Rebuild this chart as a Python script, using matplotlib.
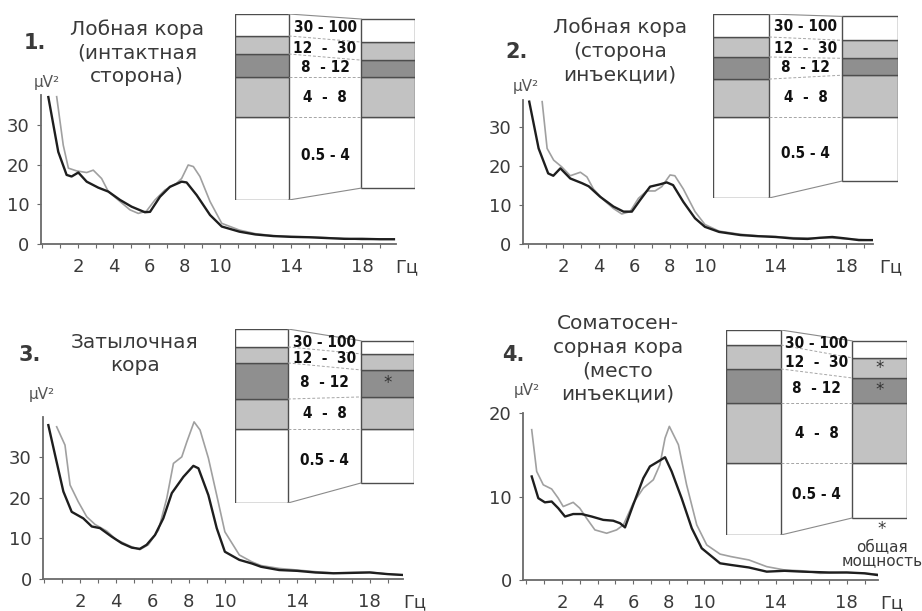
import numpy as np
import matplotlib.pyplot as plt

W, H = 922, 611

# ---- spectra (frequency in Hz, power in uV^2) ----
p1_f_black = [0.33, 0.89, 1.36, 1.64, 2.02, 2.49, 3.14, 3.71, 4.37, 5.02, 5.77, 6.06, 6.62, 7.18, 7.84, 8.12, 8.69, 9.44, 10.1, 11.1, 12, 13, 14, 15, 16, 17, 18, 19, 19.8]
p1_v_black = [37.0, 23.2, 17.4, 17.0, 18.0, 15.7, 14.2, 13.2, 11.1, 9.4, 8.0, 8.1, 11.9, 14.4, 15.7, 15.5, 12.3, 7.3, 4.4, 3.1, 2.4, 2.0, 1.8, 1.7, 1.5, 1.3, 1.3, 1.2, 1.2]
p1_f_gray = [0.8, 1.17, 1.46, 1.93, 2.49, 2.86, 3.33, 3.71, 4.37, 4.93, 5.4, 5.86, 6.34, 6.9, 7.56, 7.84, 8.21, 8.5, 8.87, 9.44, 10.1, 11.1, 12, 13, 14, 15, 16, 17, 18, 19, 19.8]
p1_v_gray = [37.1, 24.9, 19.1, 18.4, 18.0, 18.6, 16.5, 13.2, 10.7, 8.6, 7.7, 8.3, 11.1, 13.6, 15.3, 16.5, 19.9, 19.5, 17.0, 10.7, 5.2, 3.5, 2.6, 2.1, 1.9, 1.8, 1.6, 1.4, 1.1, 1.3, 1.2]

p2_f_black = [0.07, 0.6, 1.14, 1.43, 1.83, 2.39, 3.05, 3.43, 4.08, 4.83, 5.4, 5.87, 6.34, 6.9, 7.46, 7.84, 8.2, 8.78, 9.44, 10.0, 10.8, 12, 13, 14, 15, 15.8, 16.5, 17.2, 18, 18.7, 19.5]
p2_v_black = [36.5, 24.5, 18.1, 17.5, 19.4, 16.8, 15.6, 14.8, 12.1, 9.6, 8.3, 8.3, 11.3, 14.7, 15.3, 15.8, 15.1, 10.8, 6.6, 4.4, 3.1, 2.3, 2.0, 1.8, 1.4, 1.3, 1.6, 1.8, 1.4, 1.0, 1.0]
p2_f_gray = [0.8, 1.08, 1.45, 1.9, 2.39, 2.96, 3.33, 3.7, 4.27, 4.83, 5.3, 5.77, 6.24, 6.71, 7.18, 7.56, 8.03, 8.3, 8.78, 9.44, 10.0, 10.8, 12, 13, 14, 15, 16, 17, 18, 19, 19.5]
p2_v_gray = [36.5, 24.5, 21.5, 19.8, 17.5, 18.4, 17.2, 14.1, 11.3, 9.1, 7.7, 8.3, 11.7, 13.6, 13.6, 14.7, 17.7, 17.5, 14.1, 8.3, 5.0, 3.3, 2.5, 2.1, 1.9, 1.6, 1.5, 1.6, 1.3, 1.1, 1.0]

p3_f_black = [0.25, 0.62, 1.08, 1.54, 2.18, 2.65, 3.1, 3.75, 4.3, 4.86, 5.3, 5.68, 6.14, 6.6, 7.07, 7.71, 8.26, 8.54, 9.09, 9.55, 10.0, 10.8, 11.5, 12, 13, 14, 15, 16, 17, 18, 19, 19.8]
p3_v_black = [37.8, 30.5, 21.5, 16.5, 14.9, 12.9, 12.5, 10.4, 8.8, 7.7, 7.4, 8.4, 10.8, 14.9, 21.1, 25.1, 27.8, 27.2, 20.6, 12.5, 6.7, 4.7, 3.8, 3.0, 2.2, 2.0, 1.6, 1.4, 1.5, 1.6, 1.2, 1.0]
p3_f_gray = [0.71, 1.17, 1.45, 1.9, 2.37, 2.83, 3.47, 4.0, 4.75, 5.3, 5.77, 6.33, 6.79, 7.16, 7.62, 7.9, 8.3, 8.63, 9.09, 9.55, 10.0, 10.8, 11.5, 12, 13, 14, 15, 16, 17, 18, 19, 19.8]
p3_v_gray = [37.4, 32.9, 23.1, 19.0, 15.3, 13.4, 11.8, 9.7, 8.1, 7.2, 8.4, 12.0, 19.8, 28.4, 30.0, 33.7, 38.6, 36.6, 29.7, 20.6, 11.6, 5.9, 4.2, 3.3, 2.6, 2.2, 1.8, 1.5, 1.6, 1.7, 1.2, 1.0]

p4_f_black = [0.3, 0.67, 1.04, 1.42, 1.79, 2.17, 2.63, 3.1, 3.67, 4.32, 4.88, 5.26, 5.54, 6.0, 6.57, 6.94, 7.41, 7.79, 8.16, 8.72, 9.29, 9.85, 10.88, 11.5, 12.5, 13.5, 14.5, 15.5, 17, 18, 19, 19.7]
p4_v_black = [12.4, 9.8, 9.3, 9.4, 8.6, 7.6, 7.9, 7.9, 7.6, 7.2, 7.1, 6.8, 6.3, 9.0, 12.2, 13.6, 14.2, 14.7, 13.0, 9.8, 6.2, 3.8, 2.0, 1.8, 1.5, 1.0, 1.1, 1.0, 0.9, 0.9, 0.8, 0.6]
p4_f_gray = [0.3, 0.58, 0.95, 1.42, 1.79, 2.07, 2.63, 3.0, 3.38, 3.85, 4.51, 5.07, 5.45, 6.0, 6.57, 7.13, 7.5, 7.79, 8.03, 8.54, 9.0, 9.57, 10.13, 10.88, 11.5, 12.5, 13.5, 14.5, 15.5, 16.5, 18, 19, 19.7]
p4_v_gray = [18.0, 13.0, 11.4, 10.9, 9.8, 8.8, 9.3, 8.6, 7.4, 6.0, 5.6, 6.0, 6.6, 9.2, 11.0, 12.0, 13.8, 17.0, 18.4, 16.2, 11.4, 6.6, 4.2, 3.1, 2.8, 2.4, 1.6, 1.2, 1.1, 0.8, 0.9, 0.8, 0.7]

# ---- band power (% of left column total), order: 0.5-4, 4-8, 8-12, 12-30, 30-100 ----
band_labels = ['0.5 - 4', '4  -  8', '8  - 12', '12  -  30', '30 - 100']
p1_left = [44.6, 21.5, 12.4, 9.7, 11.8]
p1_right = [38.2, 21.5, 9.1, 9.7, 12.4]
p2_left = [44.0, 20.7, 12.0, 10.9, 12.5]
p2_right = [34.8, 22.8, 9.2, 9.8, 13.0]
p3_left = [42.5, 17.2, 20.7, 9.2, 10.3]
p3_right = [31.0, 18.4, 15.5, 9.2, 7.5]
p4_left = [35.1, 29.3, 16.6, 11.7, 7.3]
p4_right = [26.8, 29.3, 12.2, 9.8, 8.3]

xtick_vals = [2, 4, 6, 8, 10, 14, 18]

TXT = '#3a3a3a'
AXC = '#6a6a6a'
LIGHT = '#c2c2c2'
DARK = '#8f8f8f'
band_colors = ['white', LIGHT, DARK, LIGHT, 'white']

fig = plt.figure(figsize=(W / 100, H / 100), dpi=100)


def box(x0, y0, x1, y1):
    return [x0 / W, 1 - y1 / H, (x1 - x0) / W, (y1 - y0) / H]


def ftext(x, y, s, **kw):
    fig.text(x / W, 1 - y / H, s, **kw)


def spectrum(pos, xlim, ylim, yticks, fb, vb, fg, vg):
    ax = fig.add_axes(pos)
    ax.plot(fg, vg, color='#a0a0a0', lw=1.2)
    ax.plot(fb, vb, color='#1e1e1e', lw=1.7)
    ax.set_xlim(*xlim)
    ax.set_ylim(*ylim)
    for s in ['top', 'right']:
        ax.spines[s].set_visible(False)
    for s in ['left', 'bottom']:
        ax.spines[s].set_color(AXC)
        ax.spines[s].set_linewidth(1.3)
    ticks = list(range(0, 20))
    ax.set_xticks(ticks)
    ax.set_xticklabels([str(t) if t in xtick_vals else '' for t in ticks])
    ax.set_yticks(yticks)
    ax.tick_params(axis='x', direction='out', length=3, width=0.8, color=AXC,
                   pad=7, labelsize=13, labelcolor=TXT)
    ax.tick_params(axis='y', direction='out', length=3, width=0.8, color=AXC,
                   pad=5, labelsize=13, labelcolor=TXT)
    ax.annotate('Гц', xy=(20.5, 0), xycoords=('data', 'axes fraction'),
                xytext=(0, -10), textcoords='offset points', ha='center', va='top',
                fontsize=13, color=TXT, annotation_clip=False)
    ax.patch.set_alpha(0)
    return ax


def inset(pos, left, right, stars, gap=1.35):
    ax = fig.add_axes(pos)
    xr = 1 + gap
    bottoms_l = np.concatenate([[-left[0]], -left[0] + np.cumsum(left)[:-1]])
    bottoms_r = np.concatenate([[-right[0]], -right[0] + np.cumsum(right)[:-1]])
    ax.bar([0] * 5, left, bottom=bottoms_l, width=1, align='edge',
           color=band_colors, edgecolor='#4d4d4d', linewidth=1.0)
    ax.bar([xr] * 5, right, bottom=bottoms_r, width=1, align='edge',
           color=band_colors, edgecolor='#4d4d4d', linewidth=1.0)
    lev_l = list(bottoms_l) + [bottoms_l[-1] + left[-1]]
    lev_r = list(bottoms_r) + [bottoms_r[-1] + right[-1]]
    for k in range(6):
        if k in (0, 5):
            ax.plot([1, xr], [lev_l[k], lev_r[k]], color='#8a8a8a', lw=0.8)
        else:
            ax.plot([1, xr], [lev_l[k], lev_r[k]], color='#a5a5a5', lw=0.7,
                    ls=(0, (3, 2)))
    for k in range(5):
        cy = (bottoms_l[k] + left[k] / 2 + bottoms_r[k] + right[k] / 2) / 2
        ax.text(1 + gap / 2, cy, band_labels[k], ha='center', va='center',
                fontsize=11, fontweight='bold', fontstretch='condensed',
                color='#111111', family='DejaVu Sans')
    for k in stars:
        ax.text(xr + 0.5, bottoms_r[k] + right[k] / 2, '*', ha='center',
                va='center', fontsize=12, color='#333333')
    ax.set_xlim(0, xr + 1)
    ax.set_ylim(-left[0], sum(left[1:]))
    ax.axis('off')
    return ax


title_kw = dict(fontsize=14.5, color=TXT, ha='center', va='center', linespacing=1.3)
num_kw = dict(fontsize=15, fontweight='bold', color=TXT, ha='center', va='center')
mu_kw = dict(fontsize=11, color='#555555', ha='center', va='center')

# panel 1
spectrum(box(40.7, 95.1, 395.7, 244), (-0.1, 19.9), (0, 37.5), [0, 10, 20, 30],
         p1_f_black, p1_v_black, p1_f_gray, p1_v_gray)
inset(box(235, 14, 415, 200), p1_left, p1_right, [])
ftext(35, 43, '1.', **num_kw)
ftext(137, 53, 'Лобная кора\n(интактная\nсторона)', **title_kw)
ftext(47, 83, 'μV²', **mu_kw)

# panel 2
spectrum(box(522.7, 99.7, 873, 244), (-0.3, 19.5), (0, 37), [0, 10, 20, 30],
         p2_f_black, p2_v_black, p2_f_gray, p2_v_gray)
inset(box(713, 14, 898, 198), p2_left, p2_right, [], gap=1.3)
ftext(517, 52, '2.', **num_kw)
ftext(620, 51, 'Лобная кора\n(сторона\nинъекции)', **title_kw)
ftext(526, 86, 'μV²', **mu_kw)

# panel 3
spectrum(box(42.9, 417, 403.2, 579), (-0.05, 19.85), (0, 39.8), [0, 10, 20, 30],
         p3_f_black, p3_v_black, p3_f_gray, p3_v_gray)
inset(box(235, 329, 414, 503), p3_left, p3_right, [2], gap=1.38)
ftext(30, 355, '3.', **num_kw)
ftext(135, 354, 'Затылочная\nкора', **title_kw)
ftext(42, 394, 'μV²', **mu_kw)

# panel 4
spectrum(box(522.8, 413, 878, 580), (-0.2, 19.75), (0, 20), [0, 10, 20],
         p4_f_black, p4_v_black, p4_f_gray, p4_v_gray)
inset(box(726, 330, 907, 535), p4_left, p4_right, [2, 3], gap=1.3)
ftext(513, 355, '4.', **num_kw)
ftext(618, 359, 'Соматосен-\nсорная кора\n(место\nинъекции)', **title_kw)
ftext(527, 391, 'μV²', **mu_kw)
ftext(882, 529, '*', fontsize=12, color=TXT, ha='center', va='center')
ftext(882, 554, 'общая\nмощность', fontsize=11, color=TXT, ha='center',
      va='center', linespacing=0.85)

fig.savefig('out.png', dpi=100)
